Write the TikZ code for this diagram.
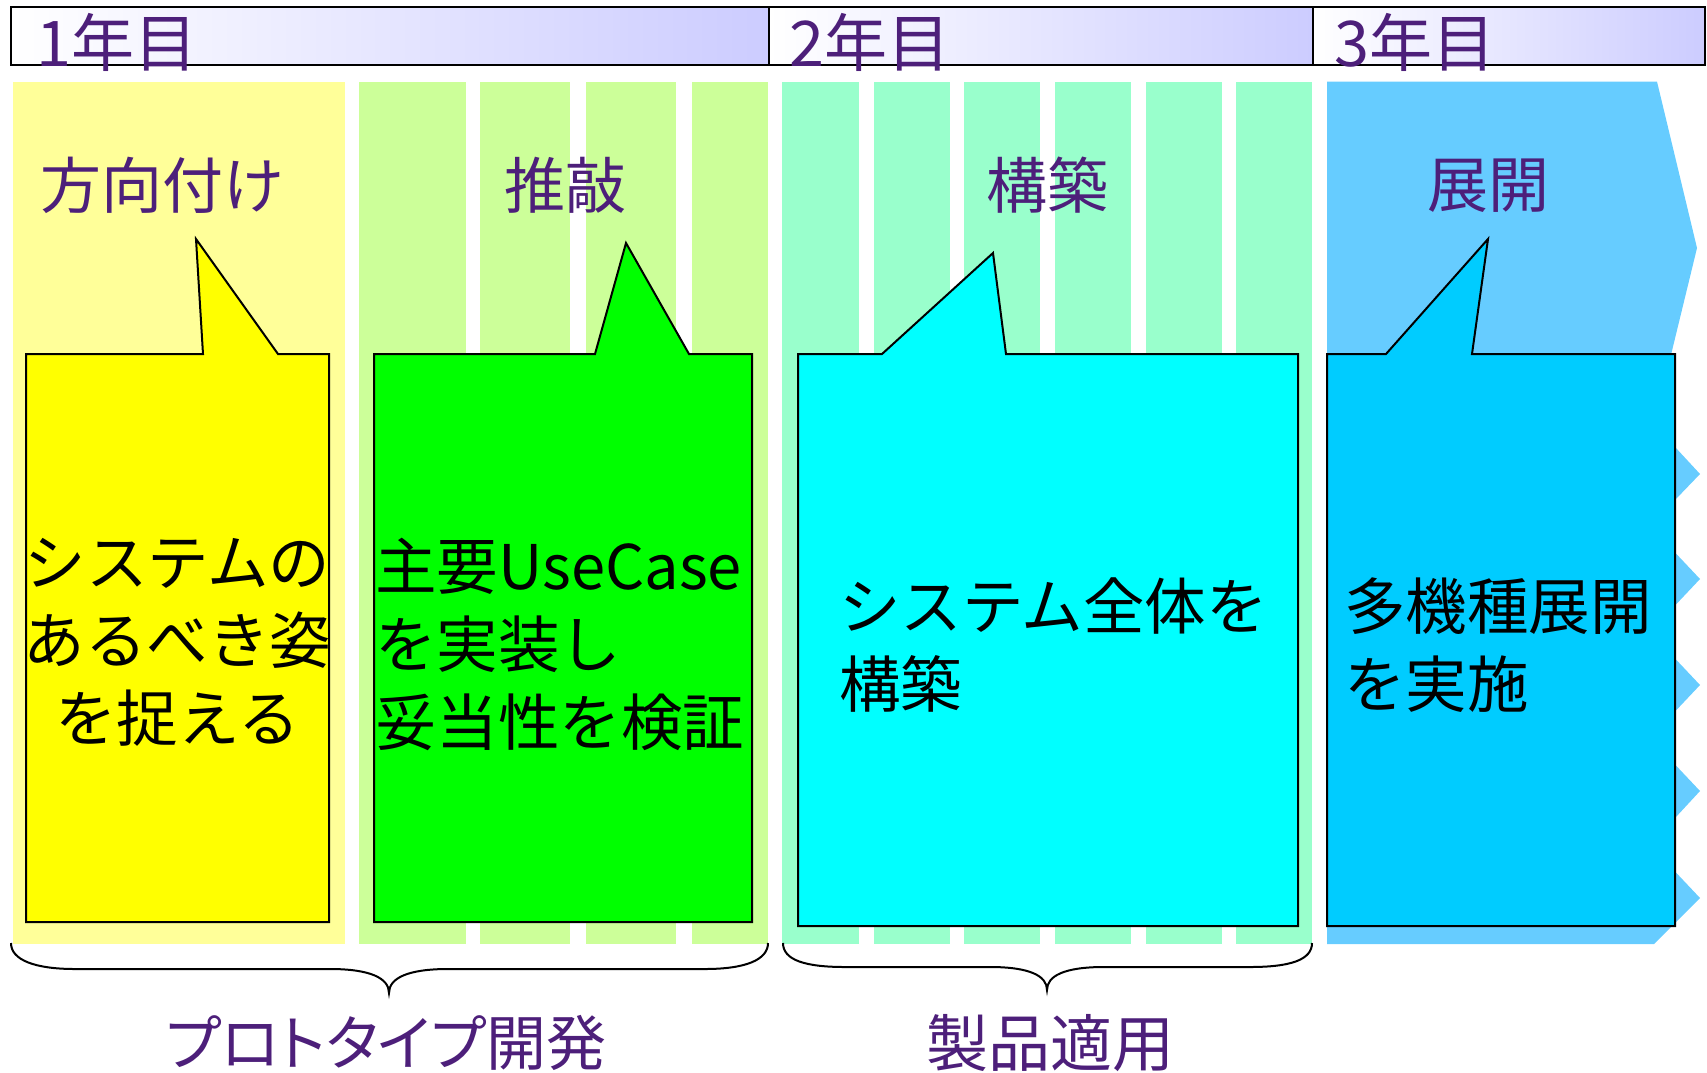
\documentclass[tikz,border=0pt]{standalone}
\usepackage{fontspec}
\setmainfont{Noto Sans CJK JP}
\newfontfamily\jpp{Noto Sans CJK JP}[RawFeature=+palt]
\definecolor{ptext}{RGB}{77,31,122}
\definecolor{stripY}{HTML}{FFFF99}
\definecolor{stripG}{HTML}{CCFF99}
\definecolor{stripM}{HTML}{99FFCC}
\definecolor{stripB}{HTML}{66CCFF}
\definecolor{calY}{HTML}{FFFF00}
\definecolor{calG}{HTML}{00FF00}
\definecolor{calC}{HTML}{00FFFF}
\definecolor{calB}{HTML}{00CCFF}
\definecolor{hdrR}{HTML}{CCCCFF}
\tikzset{
  hdrtext/.style={anchor=west,inner sep=0pt,text=ptext,font=\fontsize{63}{65}\selectfont},
  phasetext/.style={inner sep=0pt,text=ptext,font=\fontsize{61}{63}\selectfont},
  caltext/.style={inner sep=0pt,text=black,font=\fontsize{61.5}{78}\selectfont},
  callout/.style={draw=black,line width=2pt,line join=miter},
  hdrseg/.style={left color=white,right color=hdrR,draw=none},
  brace/.style={draw=black,line width=2pt}
}
\begin{document}
\begin{tikzpicture}[x=1pt,y=-1pt]
\useasboundingbox (0,0) rectangle (1707,1072);
% header
\shade[hdrseg] (11,6.5) rectangle (768.6,65);
\shade[hdrseg] (768.6,6.5) rectangle (1313,65);
\shade[hdrseg] (1313,6.5) rectangle (1705,65);
\draw[line width=2pt] (11,6.5) rectangle (1705,65);
\draw[line width=2pt] (768.6,6.5) -- (768.6,65);
\draw[line width=2pt] (1313,6.5) -- (1313,65);
% strips
\fill[stripY] (13,81.6) rectangle (345,944);
\foreach \a/\b in {359/466,480/570,586/676,692/768}
  \fill[stripG] (\a,81.6) rectangle (\b,944);
\foreach \a/\b in {782/859,874/950,964/1040,1055/1131,1146/1222,1236/1312}
  \fill[stripM] (\a,81.6) rectangle (\b,944);
\fill[stripB] (1327,81.6) -- (1657,81.6) -- (1697,248) -- (1660,400) -- (1650,420)
  -- (1700,474) -- (1650,526) -- (1700,579) -- (1650,632) -- (1700,685)
  -- (1650,738) -- (1700,791) -- (1650,845) -- (1700,898) -- (1654,944)
  -- (1327,944) -- cycle;
% header labels
\node[hdrtext] (y1) at (36,42) {1年目};
\node[hdrtext] (y2) at (789,42) {2年目};
\node[hdrtext] (y3) at (1334,42) {3年目};
% phase labels
\node[phasetext] (p1) at (162,185) {方向付け};
\node[phasetext] (p2) at (565,185) {推敲};
\node[phasetext] (p3) at (1047,185) {構築};
\node[phasetext] (p4) at (1488,186) {展開};
% callouts
\draw[callout,fill=calY] (26,354) -- (203,354) -- (196,239) -- (278,354) -- (329,354)
  -- (329,922) -- (26,922) -- cycle;
\draw[callout,fill=calG] (374,354) -- (595,354) -- (626,243) -- (689,354) -- (752,354)
  -- (752,922) -- (374,922) -- cycle;
\draw[callout,fill=calC] (798,354) -- (882,354) -- (993,253) -- (1006,354) -- (1298,354)
  -- (1298,926) -- (798,926) -- cycle;
\draw[callout,fill=calB] (1327,354) -- (1386,354) -- (1488,239) -- (1472,354) -- (1675,354)
  -- (1675,926) -- (1327,926) -- cycle;
\node[caltext,align=center] (c1) at (177.5,642) {システムの\\あるべき姿\\を捉える};
\node[caltext,align=left,anchor=west] (c2) at (375,644) {主要UseCase\\を実装し\\妥当性を検証};
\node[caltext,align=left,anchor=west] (c3) at (839,645) {システム全体を\\構築};
\node[caltext,align=left,anchor=west] (c4) at (1344,645) {多機種展開\\を実施};
% braces
\draw[brace] (11,943) .. controls (11,960) and (35,969) .. (75,969) -- (330,969)
  .. controls (370,969) and (389,978) .. (389,993)
  .. controls (389,978) and (408,969) .. (448,969) -- (705,969)
  .. controls (745,969) and (768,960) .. (768,943);
\draw[brace] (783,943) .. controls (783,960) and (805,967) .. (845,967) -- (990,967)
  .. controls (1030,967) and (1047,976) .. (1047,990)
  .. controls (1047,976) and (1064,967) .. (1104,967) -- (1250,967)
  .. controls (1290,967) and (1312,960) .. (1312,943);
% bottom labels
\node[phasetext,font=\jpp\fontsize{60}{62}\selectfont] (b1) at (386,1043) {プロトタイプ開発};
\node[phasetext,font=\fontsize{62}{64}\selectfont] (b2) at (1050,1043) {製品適用};
\end{tikzpicture}
\end{document}
